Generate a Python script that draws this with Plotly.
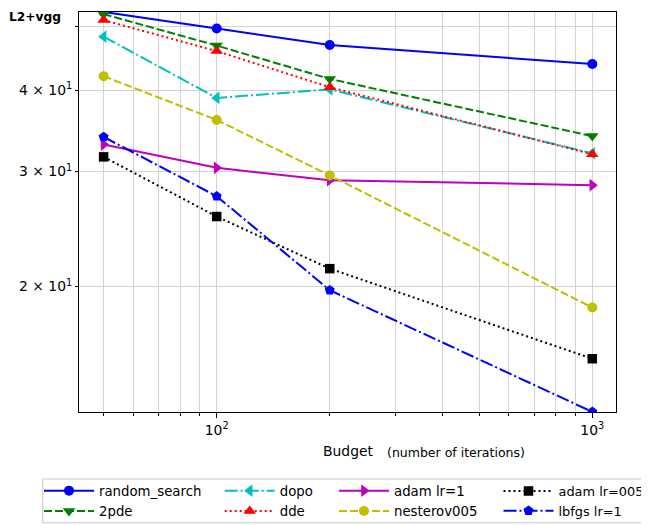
import plotly.graph_objects as go

# ---------------- data ----------------
budget = [50, 100, 200, 1000]
random_search = [52.7, 49.7, 46.9, 43.85]
pde2 = [52.3, 46.8, 41.6, 34.0]
dopo = [48.3, 38.9, 40.1, 32.0]
dde = [51.2, 45.9, 40.4, 31.9]
adam_lr1 = [33.0, 30.4, 29.1, 28.6]
nesterov005 = [42.0, 36.0, 29.6, 18.57]
adam_lr005 = [31.6, 25.6, 21.3, 15.5]
lbfgs_lr1 = [33.9, 27.5, 19.74, 12.85]

series_names = ["random_search", "2pde", "dopo", "dde",
                "adam lr=1", "nesterov005", "adam lr=005", "lbfgs lr=1"]

x_major_ticks = [100, 1000]
x_major_text = ["10<sup>2</sup>", "10<sup>3</sup>"]
x_minor_ticks = [50, 60, 70, 80, 90, 200, 300, 400, 500, 600, 700, 800, 900]
y_ticks = [20, 30, 40, 50]
y_tick_text = ["2 \u00d7 10<sup>1</sup>", "3 \u00d7 10<sup>1</sup>", "4 \u00d7 10<sup>1</sup>", ""]

# ---------------- geometry (page pixels; page body has an 8px margin) ----------------
OFF = 8
PAGE_W, PAGE_H = 649, 525
W, H = PAGE_W - OFF, PAGE_H - OFF
PLOT_L, PLOT_R, PLOT_T, PLOT_B = 79, 616, 12, 412   # plot area in page pixels
L = PLOT_L - OFF
T = PLOT_T - OFF
R = W - (PLOT_R - OFF)
B = H - (PLOT_B - OFF)
PW, PH = PLOT_R - PLOT_L, PLOT_B - PLOT_T

def px(xp):
    return (xp - PLOT_L) / PW

def py(yp):
    return (PLOT_B - yp) / PH

def cx(xp):
    return (xp - OFF) / W

def cy(yp):
    return 1 - (yp - OFF) / H

FONT = "DejaVu Sans"

styles = [
    dict(color="#0000ff", dash="solid", symbol="circle", size=10),
    dict(color="#008000", dash="8px,3px", symbol="triangle-down", size=11),
    dict(color="#00bfbf", dash="13px,3px,2px,3px", symbol="triangle-left", size=11),
    dict(color="#ff0000", dash="2px,3px", symbol="triangle-up", size=11),
    dict(color="#bf00bf", dash="solid", symbol="triangle-right", size=11),
    dict(color="#bfbf00", dash="8px,3px", symbol="circle", size=10),
    dict(color="#000000", dash="2px,3px", symbol="square", size=9.5),
    dict(color="#0000ff", dash="13px,3px,2px,3px", symbol="pentagon", size=10.5),
]
values = [random_search, pde2, dopo, dde, adam_lr1, nesterov005, adam_lr005, lbfgs_lr1]
legend_ids = ["legend", "legend", "legend2", "legend2",
              "legend3", "legend3", "legend4", "legend4"]

fig = go.Figure()
for name, vals, st, lg in zip(series_names, values, styles, legend_ids):
    fig.add_trace(go.Scatter(
        x=budget, y=vals, name=name, mode="lines+markers",
        line=dict(color=st["color"], width=2, dash=st["dash"]),
        marker=dict(symbol=st["symbol"], size=st["size"], color=st["color"],
                    line=dict(width=0)),
        legend=lg,
    ))

def leg(xleft, fsize, ytop):
    return dict(font=dict(family=FONT, size=fsize, color="black"),
                bgcolor="rgba(0,0,0,0)", itemwidth=50,
                xref="container", yref="container",
                x=cx(xleft), y=cy(ytop),
                xanchor="left", yanchor="top", tracegroupgap=0,
                itemclick=False, itemdoubleclick=False)

grid_color = "#d3d3d3"

fig.update_layout(
    width=W, height=H,
    margin=dict(l=L, r=R, t=T, b=B, pad=0, autoexpand=False),
    paper_bgcolor="white", plot_bgcolor="white",
    font=dict(family=FONT, size=13.9, color="black"),
    showlegend=True,
    legend=leg(39, 13.3, 475.5),
    legend2=leg(219.7, 13.3, 475.5),
    legend3=leg(334, 13.3, 475.5),
    legend4=leg(498.5, 12.9, 476),
    xaxis=dict(
        type="log", automargin=False,
        range=[1.6334, 3.0631],
        tickmode="array", tickvals=x_major_ticks, ticktext=x_major_text,
        ticks="outside", ticklen=5, tickwidth=1, tickcolor="black",
        showgrid=True, gridcolor=grid_color, gridwidth=1.1,
        showline=True, linecolor="black", linewidth=1.1, mirror=True,
        zeroline=False,
        tickfont=dict(family=FONT, size=13.9, color="black"),
        minor=dict(tickmode="array", tickvals=x_minor_ticks, ticks="outside",
                   ticklen=3, tickwidth=1, tickcolor="black",
                   showgrid=True, gridcolor=grid_color, gridwidth=1.1),
    ),
    yaxis=dict(
        type="log", automargin=False,
        range=[1.1087, 1.7217],
        tickmode="array", tickvals=y_ticks, ticktext=y_tick_text,
        ticks="outside", ticklen=3, tickwidth=1, tickcolor="black",
        showgrid=True, gridcolor=grid_color, gridwidth=1.1,
        showline=True, linecolor="black", linewidth=1.1, mirror=True,
        zeroline=False,
        tickfont=dict(family=FONT, size=13.9, color="black"),
    ),
    shapes=[dict(type="rect", xref="paper", yref="paper",
                 x0=px(42.7), x1=px(660), y0=py(522.7), y1=py(479),
                 line=dict(color="#cccccc", width=1.1), fillcolor="rgba(0,0,0,0)",
                 layer="above")],
    annotations=[
        dict(text="<b>L2+vgg</b>", xref="paper", yref="paper",
             x=px(7), y=py(8.5), xanchor="left", yanchor="top",
             showarrow=False, font=dict(family=FONT, size=12.2, color="black")),
        dict(text="Budget", xref="paper", yref="paper",
             x=px(321), y=py(451), xanchor="left", yanchor="middle",
             showarrow=False, font=dict(family=FONT, size=13.9, color="black")),
        dict(text="(number of iterations)", xref="paper", yref="paper",
             x=px(385), y=py(452), xanchor="left", yanchor="middle",
             showarrow=False, font=dict(family=FONT, size=12.5, color="black")),
    ],
)

fig.write_html("out.html")
